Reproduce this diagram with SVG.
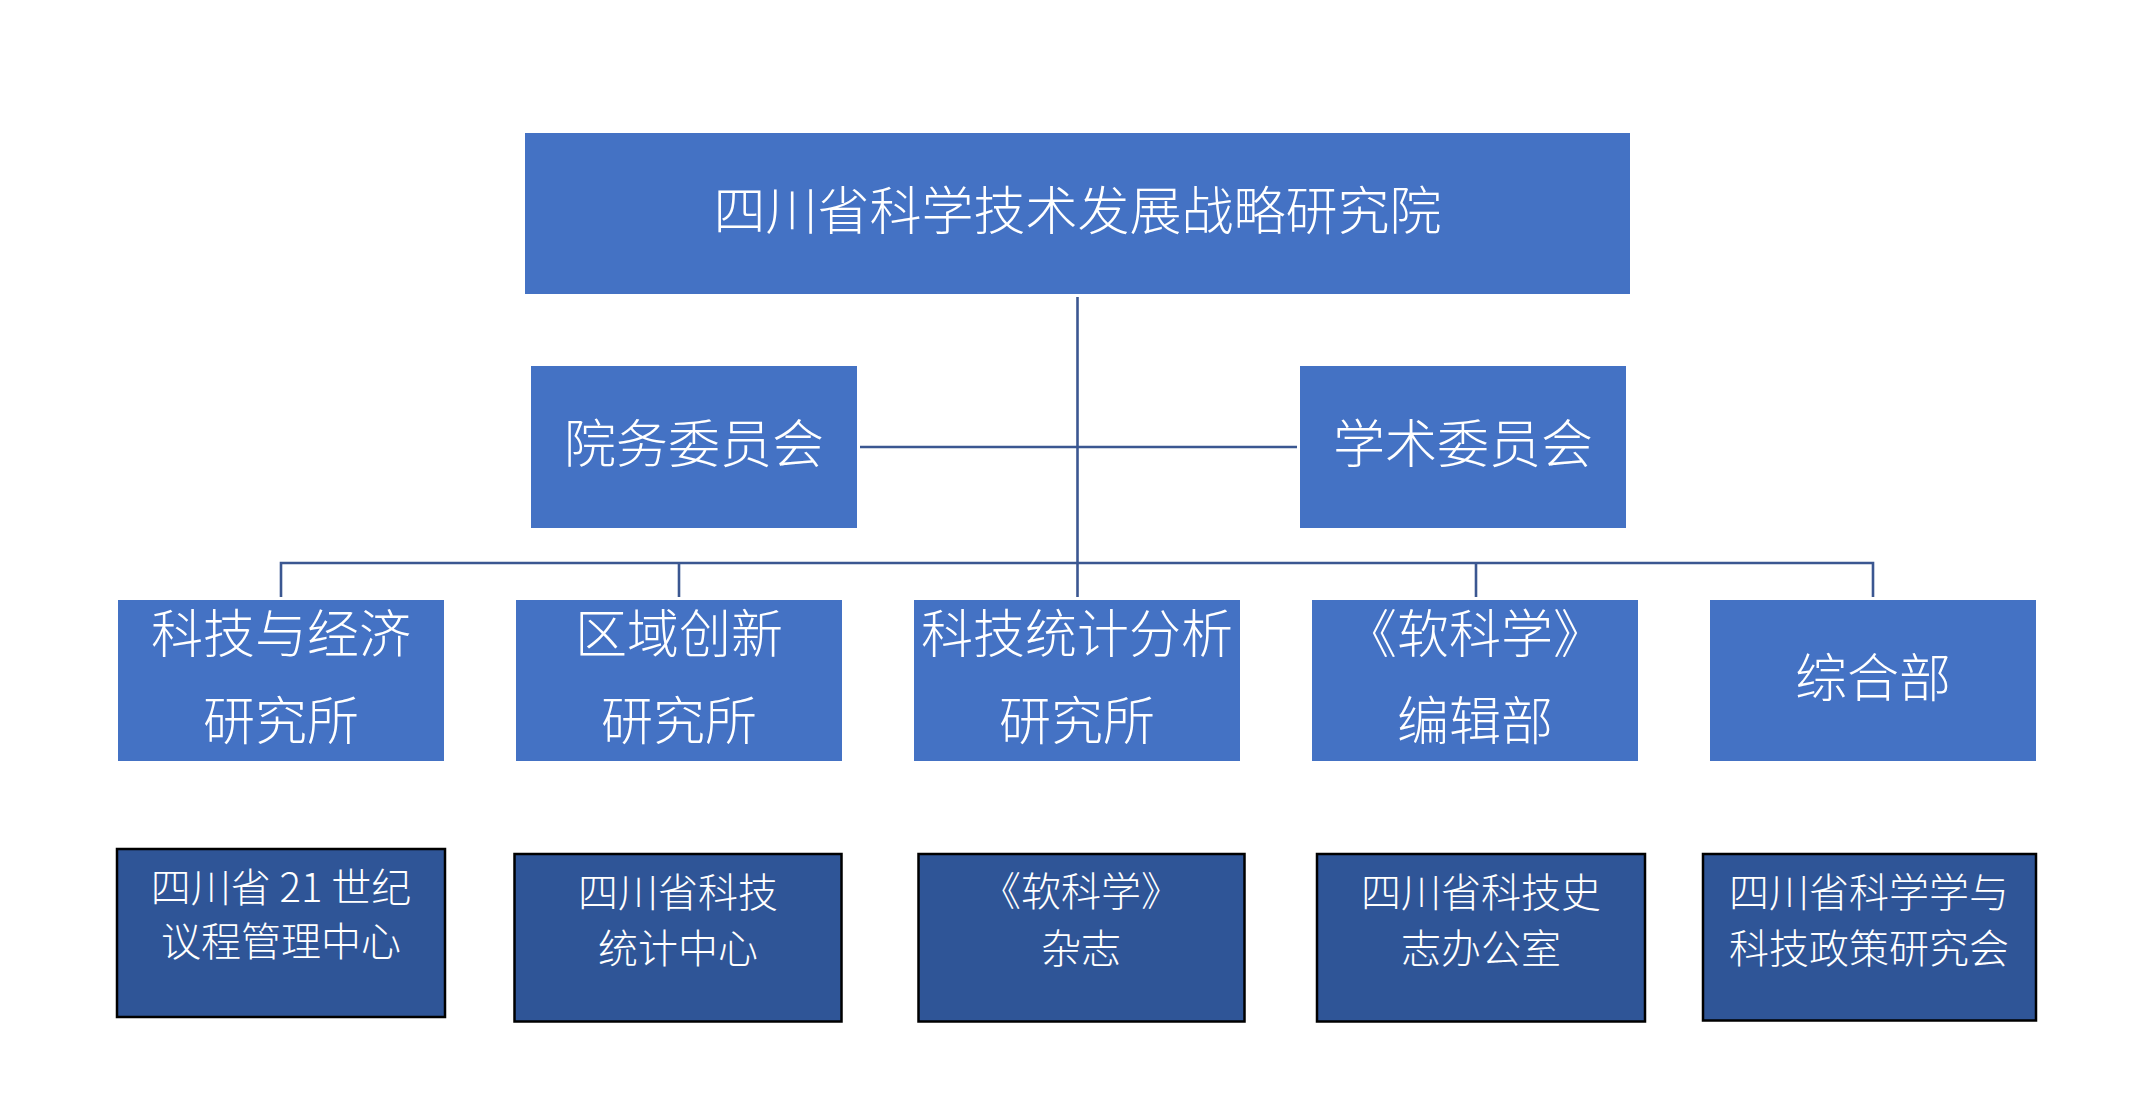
<svg xmlns="http://www.w3.org/2000/svg" width="2155" height="1116" viewBox="0 0 2155 1116">
<style>
.box{fill:#4472C4}
.sub{fill:#2F5597;stroke:#000;stroke-width:2.5}
.t{font-family:"Noto Sans CJK SC","Noto Sans",sans-serif;fill:#fff;text-anchor:middle;dominant-baseline:central;font-weight:300}
.big{font-size:52px}
.sm{font-size:40px}
.ln{stroke:#3B5791;stroke-width:2.6;fill:none}
</style>
<rect width="2155" height="1116" fill="#fff"/>
<g id="connectors">
<line class="ln" x1="1077.5" y1="297" x2="1077.5" y2="597"/>
<line class="ln" x1="860" y1="447" x2="1297" y2="447"/>
<polyline class="ln" points="281,597 281,563 1873,563 1873,597"/>
<line class="ln" x1="679" y1="563" x2="679" y2="597"/>
<line class="ln" x1="1476" y1="563" x2="1476" y2="597"/>
</g>
<g id="root">
<rect class="box" x="525" y="133" width="1105" height="161"/>
<text class="t big" x="1077.5" y="207">四川省科学技术发展战略研究院</text>
</g>
<g id="yuanwu">
<rect class="box" x="531" y="366" width="326" height="162"/>
<text class="t big" x="694" y="440">院务委员会</text>
</g>
<g id="xueshu">
<rect class="box" x="1300" y="366" width="326" height="162"/>
<text class="t big" x="1463" y="440">学术委员会</text>
</g>
<g id="d1">
<rect class="box" x="118" y="600" width="326" height="161"/>
<text class="t big" x="281" y="630">科技与经济</text>
<text class="t big" x="281" y="717">研究所</text>
</g>
<g id="d2">
<rect class="box" x="516" y="600" width="326" height="161"/>
<text class="t big" x="679" y="630">区域创新</text>
<text class="t big" x="679" y="717">研究所</text>
</g>
<g id="d3">
<rect class="box" x="914" y="600" width="326" height="161"/>
<text class="t big" x="1077" y="630">科技统计分析</text>
<text class="t big" x="1077" y="717">研究所</text>
</g>
<g id="d4">
<rect class="box" x="1312" y="600" width="326" height="161"/>
<text class="t big" x="1475" y="630">《软科学》</text>
<text class="t big" x="1475" y="717">编辑部</text>
</g>
<g id="d5">
<rect class="box" x="1710" y="600" width="326" height="161"/>
<text class="t big" x="1873" y="674">综合部</text>
</g>
<g id="s1">
<rect class="sub" x="117" y="849" width="328" height="168"/>
<text class="t sm" x="281" y="885">四川省 21 世纪</text>
<text class="t sm" x="281" y="939">议程管理中心</text>
</g>
<g id="s2">
<rect class="sub" x="514.5" y="854" width="327" height="167.5"/>
<text class="t sm" x="678" y="890">四川省科技</text>
<text class="t sm" x="678" y="946">统计中心</text>
</g>
<g id="s3">
<rect class="sub" x="918.5" y="854" width="326" height="167.5"/>
<text class="t sm" x="1081" y="889">《软科学》</text>
<text class="t sm" x="1081" y="946">杂志</text>
</g>
<g id="s4">
<rect class="sub" x="1317" y="854" width="328" height="167.5"/>
<text class="t sm" x="1481" y="890">四川省科技史</text>
<text class="t sm" x="1481" y="946">志办公室</text>
</g>
<g id="s5">
<rect class="sub" x="1703" y="854" width="333" height="166.5"/>
<text class="t sm" x="1869" y="890">四川省科学学与</text>
<text class="t sm" x="1869" y="946">科技政策研究会</text>
</g>
</svg>
